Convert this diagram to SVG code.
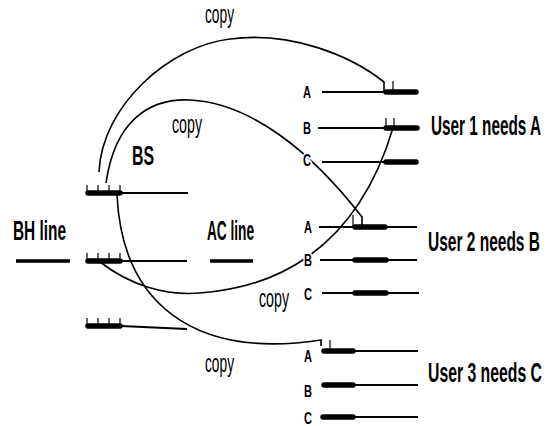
<svg xmlns="http://www.w3.org/2000/svg" width="549" height="426" viewBox="0 0 549 426">
  <style>
    .bg { fill: #ffffff; }
    .thin { stroke: #000; stroke-width: 1.8; fill: none; }
    .tick { stroke: #000; stroke-width: 1.2; fill: none; }
    .bar { stroke: #000; stroke-width: 5.5; stroke-linecap: round; fill: none; }
    .med { stroke: #000; stroke-width: 3.5; fill: none; }
    .conn { stroke: #000; stroke-width: 1.6; fill: none; }
    .big { font-family: "Liberation Sans", Arial, sans-serif; font-weight: bold; font-size: 28px; fill: #000; }
    .copy { font-family: "Liberation Sans", Arial, sans-serif; font-size: 26px; fill: #000; }
    .ch { font-family: "Liberation Sans", Arial, sans-serif; font-weight: bold; font-size: 17px; fill: #000;
          stroke: #fff; stroke-width: 4; paint-order: stroke; stroke-linejoin: round; }
  </style>
  <defs>
    <!-- base-station port: thick bar with four ticks -->
    <g id="port">
      <line class="tick" x1="87" y1="-8" x2="87" y2="0"/>
      <line class="tick" x1="98" y1="-8" x2="98" y2="0"/>
      <line class="tick" x1="109" y1="-8" x2="109" y2="0"/>
      <line class="tick" x1="120" y1="-8" x2="120" y2="0"/>
      <line class="bar" x1="88" y1="0" x2="120" y2="0"/>
    </g>
  </defs>
  <rect class="bg" width="549" height="426"/>

  <!-- base station -->
  <g id="bs">
    <text class="big" x="132" y="165" textLength="22" lengthAdjust="spacingAndGlyphs">BS</text>
    <use href="#port" y="193"/>
    <line class="thin" x1="121" y1="193" x2="188" y2="193"/>
    <use href="#port" y="261"/>
    <line class="thin" x1="121" y1="261" x2="187" y2="261"/>
    <use href="#port" y="326"/>
    <line class="thin" x1="121" y1="326" x2="187" y2="329"/>
  </g>

  <g id="bh-line">
    <text class="big" x="13" y="240" textLength="53" lengthAdjust="spacingAndGlyphs">BH line</text>
    <line class="med" x1="16" y1="261" x2="70" y2="261"/>
  </g>

  <g id="ac-line">
    <text class="big" x="207" y="240" textLength="47" lengthAdjust="spacingAndGlyphs">AC line</text>
    <line class="med" x1="210" y1="261" x2="253" y2="261"/>
  </g>

  <!-- copy connectors -->
  <g id="connectors">
    <path class="conn" d="M99,172 C102,105 170,46 230,39 C290,31 350,55 384,82 L384,92"/>
    <path class="conn" d="M106,183 C115,120 150,98 190,100 C250,103 310,150 362,217 L362,226"/>
    <path class="conn" d="M100,262 C130,285 165,296 200,293 C270,288 355,255 393,128"/>
    <path class="conn" d="M117,195 C122,300 190,360 321,340 L321,346"/>
    <line class="tick" x1="393" y1="81" x2="393" y2="92"/>
    <line class="tick" x1="386" y1="118" x2="386" y2="128"/>
    <line class="tick" x1="394" y1="118" x2="394" y2="128"/>
    <line class="tick" x1="353" y1="215" x2="353" y2="226"/>
    <line class="tick" x1="330" y1="340" x2="330" y2="351"/>
  </g>

  <g id="copy-labels">
    <text class="copy" x="205" y="23" textLength="29" lengthAdjust="spacingAndGlyphs">copy</text>
    <text class="copy" x="172" y="133" textLength="30" lengthAdjust="spacingAndGlyphs">copy</text>
    <text class="copy" x="259" y="307" textLength="30" lengthAdjust="spacingAndGlyphs">copy</text>
    <text class="copy" x="205" y="372" textLength="29" lengthAdjust="spacingAndGlyphs">copy</text>
  </g>

  <!-- user 1 -->
  <g id="user1">
    <line class="thin" x1="322" y1="92" x2="385" y2="92"/>
    <line class="bar" x1="386" y1="92" x2="416" y2="92"/>
    <line class="thin" x1="318" y1="128" x2="385" y2="128"/>
    <line class="bar" x1="386" y1="128" x2="417" y2="128"/>
    <line class="thin" x1="322" y1="162" x2="385" y2="162"/>
    <line class="bar" x1="386" y1="162" x2="416" y2="162"/>
    <text class="ch" x="303" y="98" textLength="8" lengthAdjust="spacingAndGlyphs">A</text>
    <text class="ch" x="303" y="134" textLength="8" lengthAdjust="spacingAndGlyphs">B</text>
    <text class="ch" x="303" y="166" textLength="8" lengthAdjust="spacingAndGlyphs">C</text>
    <text class="big" x="431" y="135" textLength="110" lengthAdjust="spacingAndGlyphs">User 1 needs A</text>
  </g>

  <!-- user 2 -->
  <g id="user2">
    <line class="thin" x1="319" y1="227" x2="417" y2="227"/>
    <line class="bar" x1="355" y1="227" x2="385" y2="227"/>
    <line class="thin" x1="320" y1="260" x2="417" y2="260"/>
    <line class="bar" x1="355" y1="260" x2="386" y2="260"/>
    <line class="thin" x1="322" y1="293" x2="419" y2="293"/>
    <line class="bar" x1="355" y1="293" x2="386" y2="293"/>
    <text class="ch" x="304" y="233" textLength="8" lengthAdjust="spacingAndGlyphs">A</text>
    <text class="ch" x="304" y="266" textLength="8" lengthAdjust="spacingAndGlyphs">B</text>
    <text class="ch" x="304" y="300" textLength="8" lengthAdjust="spacingAndGlyphs">C</text>
    <text class="big" x="428" y="251" textLength="112" lengthAdjust="spacingAndGlyphs">User 2 needs B</text>
  </g>

  <!-- user 3 -->
  <g id="user3">
    <line class="bar" x1="324" y1="351" x2="353" y2="351"/>
    <line class="thin" x1="355" y1="351" x2="418" y2="351"/>
    <line class="bar" x1="324" y1="385" x2="353" y2="385"/>
    <line class="thin" x1="355" y1="385" x2="418" y2="385"/>
    <line class="bar" x1="323" y1="417" x2="353" y2="417"/>
    <line class="thin" x1="355" y1="417" x2="418" y2="417"/>
    <text class="ch" x="304" y="362" textLength="8" lengthAdjust="spacingAndGlyphs">A</text>
    <text class="ch" x="304" y="397" textLength="8" lengthAdjust="spacingAndGlyphs">B</text>
    <text class="ch" x="304" y="424" textLength="8" lengthAdjust="spacingAndGlyphs">C</text>
    <text class="big" x="428" y="382" textLength="114" lengthAdjust="spacingAndGlyphs">User 3 needs C</text>
  </g>
</svg>
